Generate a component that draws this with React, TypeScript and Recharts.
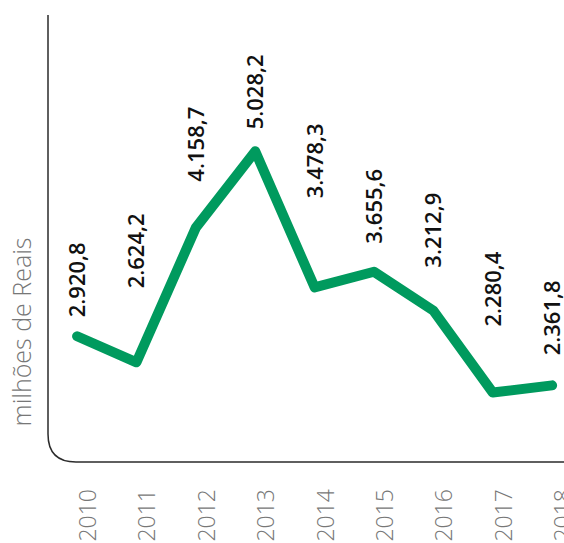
import { LabelList, Line, LineChart, XAxis, YAxis, usePlotArea } from "recharts";

const years = [2010, 2011, 2012, 2013, 2014, 2015, 2016, 2017, 2018];
const receita = [2920.8, 2624.2, 4158.7, 5028.2, 3478.3, 3655.6, 3212.9, 2280.4, 2361.8];
// how far above each point its label starts (px)
const labelLift = [19, 74, 46, 22, 89, 28, 43, 66, 30];
const yLabel = "milhões de Reais";

const GREEN = "#009a5e";
const GREY = "#777777";
const FONT = "'Open Sans', 'Noto Sans', sans-serif";

const chartData = years.map((year, i) => ({ year, valor: receita[i] }));

const fmt = (v: number) => {
  const [int, dec] = v.toFixed(1).split(".");
  return `${int.replace(/\B(?=(\d{3})+(?!\d))/g, ".")},${dec}`;
};

function AxisFrame() {
  const plot = usePlotArea();
  if (!plot) return null;
  const x0 = plot.x;
  const yb = plot.y + plot.height + 1;
  const r = 28;
  return (
    <g>
      <path
        d={`M${x0},15 L${x0},${yb - r} Q${x0},${yb} ${x0 + r},${yb} L${plot.x + plot.width},${yb}`}
        fill="none"
        stroke="#2b2b2b"
        strokeWidth={1.5}
      />
      <text
        x={x0 - 17}
        y={332}
        transform={`rotate(-90, ${x0 - 17}, 332)`}
        textAnchor="middle"
        fill={GREY}
        fontSize={25}
        fontWeight={300}
        fontFamily={FONT}
      >
        {yLabel}
      </text>
    </g>
  );
}

function YearTick(props: any) {
  const { x, y, payload } = props;
  const bx = x + 19;
  const by = y + 28;
  return (
    <text
      x={bx}
      y={by}
      transform={`rotate(-90, ${bx}, ${by})`}
      textAnchor="end"
      fill={GREY}
      fontSize={23}
      fontWeight={300}
      fontFamily={FONT}
    >
      {payload.value}
    </text>
  );
}

function ValueLabel(props: any) {
  const { x, y, value, index } = props;
  const bx = x + 8;
  const by = y - labelLift[index];
  return (
    <text
      x={bx}
      y={by}
      transform={`rotate(-90, ${bx}, ${by})`}
      textAnchor="start"
      fill="#111"
      fontSize={22}
      fontWeight={600}
      fontFamily={FONT}
    >
      {fmt(Number(value))}
    </text>
  );
}

export default function App() {
  return (
    <div style={{ position: "absolute", left: 0, top: 0, width: 564, height: 543, background: "#fff" }}>
      <LineChart
        width={564}
        height={543}
        data={chartData}
        margin={{ top: 66, right: 0, left: 0, bottom: 0 }}
      >
        <XAxis
          dataKey="year"
          type="number"
          domain={[2009.51, 2018.2]}
          ticks={years}
          allowDataOverflow
          axisLine={false}
          tickLine={false}
          tickSize={0}
          tickMargin={0}
          height={82}
          tick={<YearTick />}
          interval={0}
        />
        <YAxis
          domain={[1500, 6000]}
          allowDataOverflow
          width={48}
          axisLine={false}
          tickLine={false}
          tick={false}
        />
        <AxisFrame />
        <Line
          dataKey="valor"
          stroke={GREEN}
          strokeWidth={10}
          strokeLinecap="round"
          strokeLinejoin="round"
          dot={false}
          activeDot={false}
          isAnimationActive={false}
        >
          <LabelList dataKey="valor" content={<ValueLabel />} />
        </Line>
      </LineChart>
    </div>
  );
}
